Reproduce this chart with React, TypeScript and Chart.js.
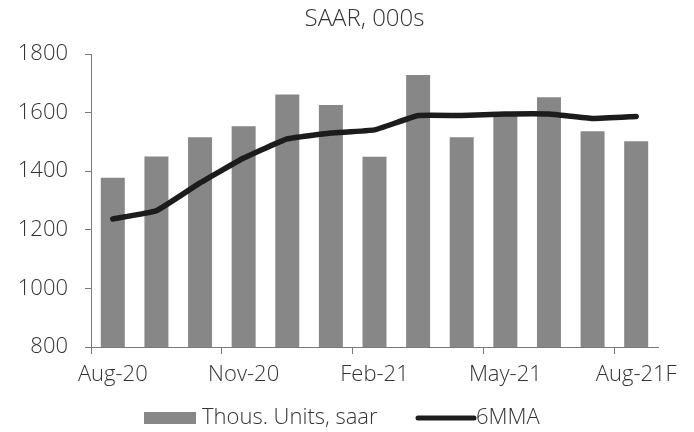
import React, { useEffect, useRef } from "react";
import { Chart, registerables } from "chart.js";

Chart.register(...registerables);

const categories = [
  "Aug-20", "Sep-20", "Oct-20", "Nov-20", "Dec-20", "Jan-21", "Feb-21",
  "Mar-21", "Apr-21", "May-21", "Jun-21", "Jul-21", "Aug-21F",
];
const unitsSaar = [1378, 1450, 1516, 1553, 1662, 1626, 1449, 1728, 1516, 1595, 1652, 1536, 1502];
const sixMMA = [1237, 1265, 1360, 1445, 1510, 1530, 1541, 1590, 1590, 1595, 1595, 1580, 1587];
const yTicks = { min: 800, max: 1800, step: 200 };
const titleText = "SAAR, 000s";
const barLabel = "Thous. Units, saar";
const lineLabel = "6MMA";

const FONT = "'Open Sans', 'DejaVu Sans', sans-serif";
const TEXT = "#333333";
const AXIS = "#7a7a7a";
const BAR = "#878788";
const LINE = "#1c1c1c";

export default function App() {
  const ref = useRef<HTMLCanvasElement | null>(null);

  useEffect(() => {
    document.body.style.margin = "0";
    const canvas = ref.current;
    if (!canvas) return;

    const overlay = {
      id: "overlay",
      afterDraw(chart: any) {
        const ctx = chart.ctx;
        ctx.save();
        ctx.fillStyle = TEXT;
        ctx.font = `300 24px ${FONT}`;
        ctx.textBaseline = "middle";
        ctx.textAlign = "center";
        const cx = (chart.chartArea.left + chart.chartArea.right) / 2 - 10;
        ctx.fillText(titleText, cx, 19);

        // legend
        ctx.font = `300 22px ${FONT}`;
        const ly = 418;
        ctx.textAlign = "left";
        ctx.fillStyle = BAR;
        ctx.fillRect(144, ly - 6, 52, 12);
        ctx.fillStyle = TEXT;
        ctx.fillText(barLabel, 202, ly);
        ctx.strokeStyle = LINE;
        ctx.lineWidth = 5;
        ctx.lineCap = "round";
        ctx.beginPath();
        ctx.moveTo(418, ly);
        ctx.lineTo(474, ly);
        ctx.stroke();
        ctx.fillText(lineLabel, 476, ly);
        ctx.restore();
      },
    };

    const chart = new Chart(canvas, {
      type: "bar",
      data: {
        labels: categories,
        datasets: [
          {
            type: "line",
            label: lineLabel,
            data: sixMMA,
            borderColor: LINE,
            backgroundColor: LINE,
            borderWidth: 5.5,
            pointRadius: 0,
            tension: 0.1,
            borderCapStyle: "round",
            borderJoinStyle: "round",
            order: 0,
          } as any,
          {
            type: "bar",
            label: barLabel,
            data: unitsSaar,
            backgroundColor: BAR,
            categoryPercentage: 1,
            barPercentage: 0.55,
            order: 1,
          },
        ],
      },
      options: {
        animation: false,
        responsive: false,
        maintainAspectRatio: false,
        layout: { padding: { top: 54, right: 36, bottom: 40, left: 0 } },
        plugins: {
          legend: { display: false },
          title: { display: false },
          tooltip: { enabled: false },
        },
        scales: {
          x: {
            type: "category",
            offset: true,
            grid: {
              offset: true,
              drawOnChartArea: false,
              tickLength: 7,
              color: (c: any) => (c.index % 3 === 0 ? AXIS : "rgba(0,0,0,0)"),
            },
            border: { color: AXIS, width: 1 },
            ticks: {
              autoSkip: false,
              maxRotation: 0,
              minRotation: 0,
              padding: 8,
              color: TEXT,
              font: { family: FONT, size: 22, weight: 300 as any },
              callback: (_v: any, i: number) => (i % 3 === 0 ? categories[i] : ""),
            },
            afterFit: (s: any) => {
              s.height = 45;
              s.paddingLeft = 0;
              s.paddingRight = 0;
            },
          },
          y: {
            min: yTicks.min,
            max: yTicks.max,
            grid: { drawOnChartArea: false, tickLength: 6, color: AXIS },
            border: { color: AXIS, width: 1 },
            ticks: {
              stepSize: yTicks.step,
              padding: 17,
              color: TEXT,
              font: { family: FONT, size: 22, weight: 300 as any },
              callback: (v: any) => String(v),
            },
            afterFit: (s: any) => {
              s.width = 91;
              s.paddingTop = 0;
              s.paddingBottom = 0;
            },
          },
        },
      },
      plugins: [overlay],
    });
    return () => chart.destroy();
  }, []);

  return (
    <div style={{ width: 694, height: 432, background: "#fff" }}>
      <canvas ref={ref} width={694} height={432} style={{ display: "block" }} />
    </div>
  );
}
